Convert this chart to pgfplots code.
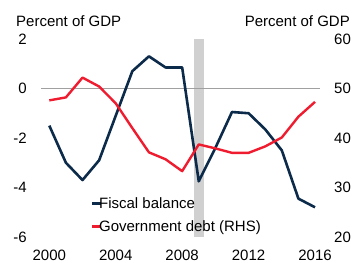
\documentclass[border=0pt]{standalone}
\usepackage{pgfplots}
\pgfplotsset{compat=1.18}
\usepackage{fontspec}
\setmainfont{Liberation Sans}
\definecolor{navy}{HTML}{0C2A4A}
\definecolor{rbared}{HTML}{EE1C2E}
\definecolor{band}{HTML}{D0D0D0}
\definecolor{zline}{HTML}{A0A0A0}
\begin{document}
\fontsize{15bp}{18bp}\selectfont
\begin{tikzpicture}
\pgfplotsset{
  base/.style={
    scale only axis, width=279bp, height=198bp,
    xmin=1999.5, xmax=2016.3,
    axis line style={draw=none},
    major tick length=0pt,
    clip=false,
  }
}
\begin{axis}[base, name=ax,
  ymin=-6, ymax=2,
  ytick={-6,-4,-2,0,2}, yticklabels={-6,-4,-2,0,2},
  xtick={2000,2004,2008,2012,2016}, xticklabels={2000,2004,2008,2012,2016},
  yticklabel style={anchor=east, xshift=-9bp},
  xticklabel style={anchor=north, yshift=-8bp},
]
\addplot[draw=none, fill=band] coordinates {(2008.7,-6) (2008.7,2) (2009.3,2) (2009.3,-6)} -- cycle;
\addplot[zline, line width=0.9bp] coordinates {(1999.5,0) (2016.3,0)};
\addplot[navy, line width=2.6bp, line join=round] coordinates {
(2000,-1.5) (2001,-3.0) (2002,-3.7) (2003,-2.9) (2004,-1.1) (2005,0.7)
(2006,1.3) (2007,0.85) (2008,0.85) (2009,-3.75) (2010,-2.4) (2011,-0.95)
(2012,-1.0) (2013,-1.65) (2014,-2.5) (2015,-4.45) (2016,-4.8)};
\end{axis}
\begin{axis}[base,
  ymin=20, ymax=60,
  axis y line*=right, axis x line=none,
  ytick={20,30,40,50,60}, yticklabels={20,30,40,50,60},
  yticklabel style={anchor=west, xshift=9bp},
  legend style={at={(axis cs:2002.47,24.25)}, anchor=west, draw=none, fill=none,
    inner sep=0pt, row sep=10bp, nodes={inner sep=0pt, anchor=base west},
    /tikz/every odd column/.style={column sep=-3bp}},
  legend cell align=left,
  legend image code/.code={\draw[#1] (0bp,0.36em) -- (9bp,0.36em);},
]
\addlegendimage{navy, line width=2.6bp}
\addlegendentry{Fiscal balance}
\addplot[rbared, line width=2.4bp, line join=round] coordinates {
(2000,47.6) (2001,48.2) (2002,52.2) (2003,50.4) (2004,47.0) (2005,42.0)
(2006,37.1) (2007,35.7) (2008,33.3) (2009,38.7) (2010,37.9) (2011,37.0)
(2012,37.0) (2013,38.3) (2014,40.1) (2015,44.3) (2016,47.3)};
\addlegendentry{Government debt (RHS)}
\end{axis}
\node[anchor=base west, inner sep=0pt] at ([xshift=-25bp, yshift=12bp]ax.north west) {Percent of GDP};
\node[anchor=base east, inner sep=0pt] at ([xshift=30bp, yshift=12bp]ax.north east) {Percent of GDP};
\pgfresetboundingbox
\useasboundingbox ([xshift=-41bp, yshift=-26bp]ax.south west) rectangle ([xshift=34bp, yshift=39bp]ax.north east);
\end{tikzpicture}
\end{document}
